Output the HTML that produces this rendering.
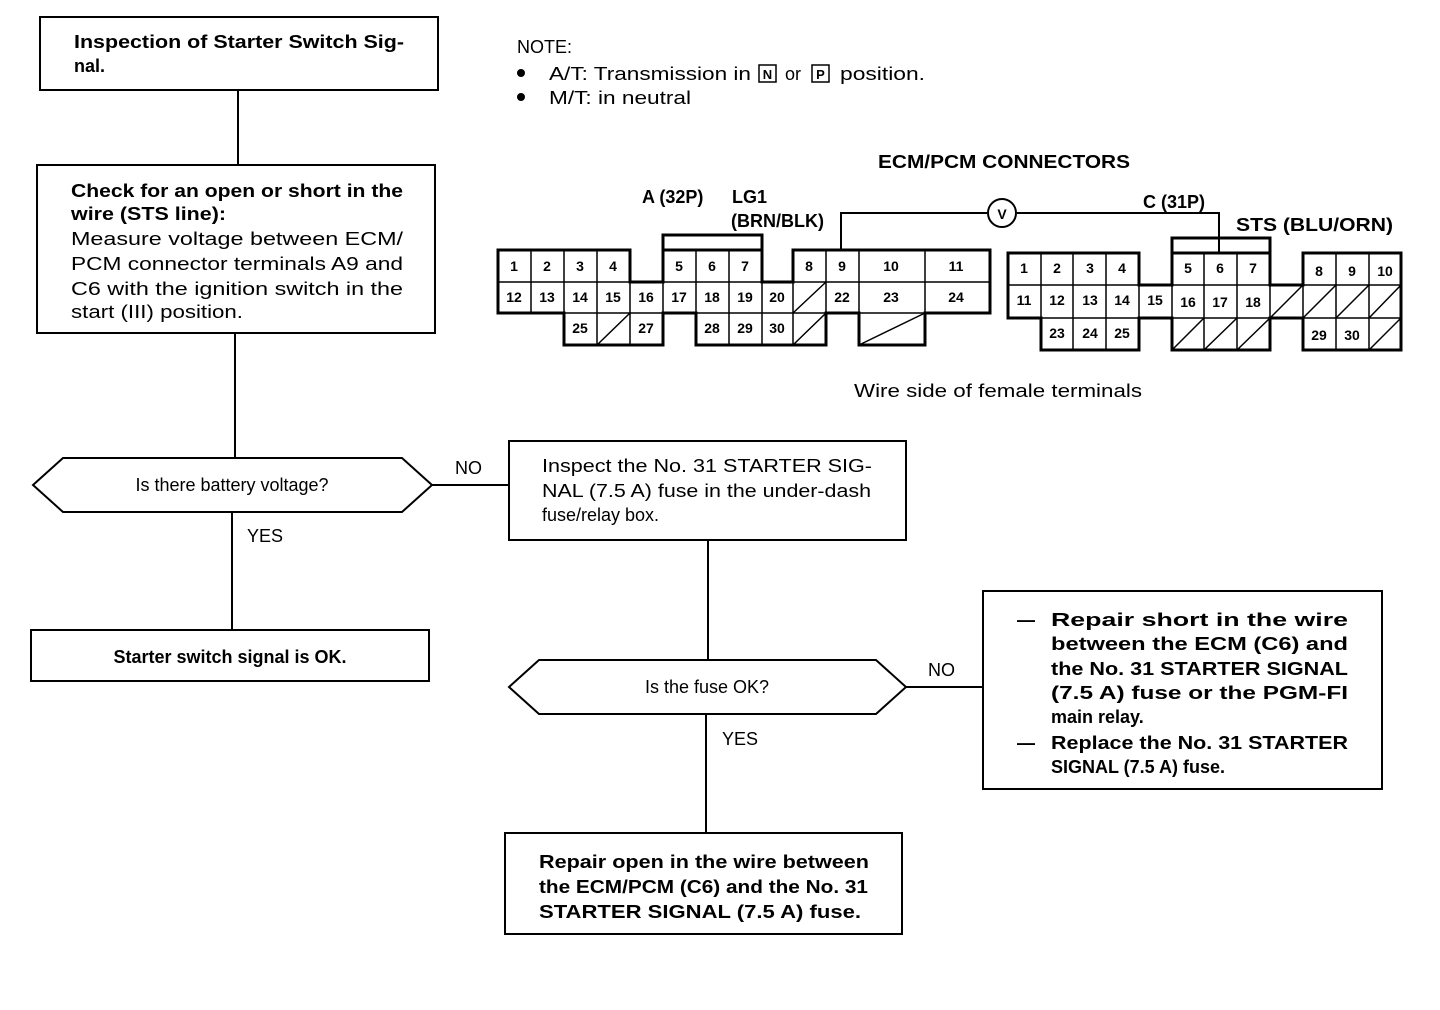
<!DOCTYPE html>
<html><head><meta charset="utf-8"><style>
html,body{margin:0;padding:0;background:#fff;}
svg{display:block;font-family:"Liberation Sans",sans-serif;}
.b{font-weight:bold;}
.t{font-size:18px;}
.n{font-size:14px;font-weight:bold;text-anchor:middle;}
</style></head><body>
<svg width="1440" height="1010" viewBox="0 0 1440 1010" xmlns="http://www.w3.org/2000/svg">
<g fill="none" stroke="#000" stroke-width="2">
<rect x="40" y="17" width="398" height="73"/>
<line x1="238" y1="90" x2="238" y2="165"/>
<rect x="37" y="165" width="398" height="168"/>
<line x1="235" y1="333" x2="235" y2="458"/>
<polygon points="33,485 63,458 402,458 432,485 402,512 63,512"/>
<line x1="232" y1="512" x2="232" y2="630"/>
<rect x="31" y="630" width="398" height="51"/>
<line x1="432" y1="485" x2="509" y2="485"/>
<rect x="509" y="441" width="397" height="99"/>
<line x1="708" y1="540" x2="708" y2="660"/>
<polygon points="509,687 539,660 876,660 906,687 876,714 539,714"/>
<line x1="906" y1="687" x2="983" y2="687"/>
<rect x="983" y="591" width="399" height="198"/>
<line x1="706" y1="714" x2="706" y2="833"/>
<rect x="505" y="833" width="397" height="101"/>
</g>
<g class="t">
<text x="74" y="48" class="b" textLength="330" lengthAdjust="spacingAndGlyphs">Inspection of Starter Switch Sig-</text>
<text x="74" y="72" class="b">nal.</text>
<text x="71" y="197" class="b" textLength="332" lengthAdjust="spacingAndGlyphs">Check for an open or short in the</text>
<text x="71" y="220" class="b" textLength="155" lengthAdjust="spacingAndGlyphs">wire (STS line):</text>
<text x="71" y="245" textLength="332" lengthAdjust="spacingAndGlyphs">Measure voltage between ECM/</text>
<text x="71" y="270" textLength="332" lengthAdjust="spacingAndGlyphs">PCM connector terminals A9 and</text>
<text x="71" y="295" textLength="332" lengthAdjust="spacingAndGlyphs">C6 with the ignition switch in the</text>
<text x="71" y="318" textLength="172" lengthAdjust="spacingAndGlyphs">start (III) position.</text>
<text x="232" y="491" text-anchor="middle">Is there battery voltage?</text>
<text x="247" y="542">YES</text>
<text x="230" y="663" text-anchor="middle" class="b">Starter switch signal is OK.</text>
<text x="455" y="474">NO</text>
<text x="542" y="472" textLength="330" lengthAdjust="spacingAndGlyphs">Inspect the No. 31 STARTER SIG-</text>
<text x="542" y="497" textLength="329" lengthAdjust="spacingAndGlyphs">NAL (7.5 A) fuse in the under-dash</text>
<text x="542" y="521">fuse/relay box.</text>
<text x="707" y="693" text-anchor="middle">Is the fuse OK?</text>
<text x="722" y="745">YES</text>
<text x="928" y="676">NO</text>
<text x="1017" y="626" class="b">—</text>
<text x="1051" y="626" class="b" textLength="297" lengthAdjust="spacingAndGlyphs">Repair short in the wire</text>
<text x="1051" y="650" class="b" textLength="297" lengthAdjust="spacingAndGlyphs">between the ECM (C6) and</text>
<text x="1051" y="675" class="b" textLength="297" lengthAdjust="spacingAndGlyphs">the No. 31 STARTER SIGNAL</text>
<text x="1051" y="699" class="b" textLength="297" lengthAdjust="spacingAndGlyphs">(7.5 A) fuse or the PGM-FI</text>
<text x="1051" y="723" class="b">main relay.</text>
<text x="1017" y="749" class="b">—</text>
<text x="1051" y="749" class="b" textLength="297" lengthAdjust="spacingAndGlyphs">Replace the No. 31 STARTER</text>
<text x="1051" y="773" class="b">SIGNAL (7.5 A) fuse.</text>
<text x="539" y="868" class="b" textLength="330" lengthAdjust="spacingAndGlyphs">Repair open in the wire between</text>
<text x="539" y="893" class="b" textLength="329" lengthAdjust="spacingAndGlyphs">the ECM/PCM (C6) and the No. 31</text>
<text x="539" y="918" class="b" textLength="322" lengthAdjust="spacingAndGlyphs">STARTER SIGNAL (7.5 A) fuse.</text>
<text x="517" y="53">NOTE:</text>
<circle cx="521" cy="73" r="4" fill="#000"/>
<text x="549" y="80" textLength="202" lengthAdjust="spacingAndGlyphs">A/T: Transmission in</text>
<rect x="759" y="65" width="17" height="17" fill="none" stroke="#000" stroke-width="1.5"/>
<text x="767.5" y="79" text-anchor="middle" font-size="13" class="b">N</text>
<text x="785" y="80">or</text>
<rect x="812" y="65" width="17" height="17" fill="none" stroke="#000" stroke-width="1.5"/>
<text x="820.5" y="79" text-anchor="middle" font-size="13" class="b">P</text>
<text x="840" y="80" textLength="85" lengthAdjust="spacingAndGlyphs">position.</text>
<circle cx="521" cy="97" r="4" fill="#000"/>
<text x="549" y="104" textLength="142" lengthAdjust="spacingAndGlyphs">M/T: in neutral</text>
<text x="878" y="168" class="b" textLength="252" lengthAdjust="spacingAndGlyphs">ECM/PCM CONNECTORS</text>
<text x="642" y="203" class="b">A (32P)</text>
<text x="732" y="203" class="b">LG1</text>
<text x="731" y="227" class="b">(BRN/BLK)</text>
<text x="1143" y="208" class="b">C (31P)</text>
<text x="1236" y="231" class="b" textLength="157" lengthAdjust="spacingAndGlyphs">STS (BLU/ORN)</text>
<text x="854" y="397" textLength="288" lengthAdjust="spacingAndGlyphs">Wire side of female terminals</text>
</g>
<g fill="none" stroke="#000" stroke-width="2">
<polyline points="841,250 841,213 987,213"/>
<polyline points="1017,213 1219,213 1219,238"/>
<circle cx="1002" cy="213" r="14"/>
</g>
<text x="1002" y="219" class="n" font-size="16">V</text>
<!-- Connector A -->
<g fill="none" stroke="#000" stroke-width="2">
<g stroke-width="1.5">
<path d="M498,250H630M498,282H990M564,313H990M531,250V313M564,250V345M597,250V345M630,282V345M663,250V345M696,250V345M729,250V345M762,250V345M793,250V345M826,250V345M859,250V313M925,250V313M663,250H762M793,250H990"/>
<line x1="597" y1="345" x2="630" y2="313"/>
<line x1="793" y1="313" x2="826" y2="282"/>
<line x1="793" y1="345" x2="826" y2="313"/>
<line x1="859" y1="345" x2="925" y2="313"/>
</g>
<path stroke-width="3" d="M498,250H630V282H663V250H762V282H793V250H990V313H925V345H859V313H826V345H696V313H663V345H564V313H498Z"/>
<path stroke-width="3" d="M663,250V235H762V250"/>
</g>
<g class="n">
<text x="514" y="271">1</text><text x="547" y="271">2</text><text x="580" y="271">3</text><text x="613" y="271">4</text>
<text x="679" y="271">5</text><text x="712" y="271">6</text><text x="745" y="271">7</text>
<text x="809" y="271">8</text><text x="842" y="271">9</text><text x="891" y="271">10</text><text x="956" y="271">11</text>
<text x="514" y="302">12</text><text x="547" y="302">13</text><text x="580" y="302">14</text><text x="613" y="302">15</text><text x="646" y="302">16</text><text x="679" y="302">17</text><text x="712" y="302">18</text><text x="745" y="302">19</text><text x="777" y="302">20</text><text x="842" y="302">22</text><text x="891" y="302">23</text><text x="956" y="302">24</text>
<text x="580" y="333">25</text><text x="646" y="333">27</text><text x="712" y="333">28</text><text x="745" y="333">29</text><text x="777" y="333">30</text>
</g>
<!-- Connector C -->
<g fill="none" stroke="#000" stroke-width="2">
<g stroke-width="1.5">
<path d="M1008,253H1139M1008,285H1401M1041,318H1139M1172,318H1401M1041,253V350M1073,253V350M1106,253V350M1139,253V318M1172,253V350M1204,253V350M1237,253V350M1270,253V350M1303,253V350M1336,253V350M1369,253V350M1172,253H1270M1303,253H1401"/>
<line x1="1270" y1="318" x2="1303" y2="285"/>
<line x1="1303" y1="318" x2="1336" y2="285"/>
<line x1="1336" y1="318" x2="1369" y2="285"/>
<line x1="1369" y1="318" x2="1401" y2="285"/>
<line x1="1172" y1="350" x2="1204" y2="318"/>
<line x1="1204" y1="350" x2="1237" y2="318"/>
<line x1="1237" y1="350" x2="1270" y2="318"/>
<line x1="1369" y1="350" x2="1401" y2="318"/>
</g>
<path stroke-width="3" d="M1008,253H1139V285H1172V253H1270V285H1303V253H1401V350H1303V318H1270V350H1172V318H1139V350H1041V318H1008Z"/>
<path stroke-width="3" d="M1172,253V238H1270V253"/>
<line x1="1219" y1="238" x2="1219" y2="253"/>
</g>
<g class="n">
<text x="1024" y="273">1</text><text x="1057" y="273">2</text><text x="1090" y="273">3</text><text x="1122" y="273">4</text>
<text x="1188" y="273">5</text><text x="1220" y="273">6</text><text x="1253" y="273">7</text>
<text x="1319" y="276">8</text><text x="1352" y="276">9</text><text x="1385" y="276">10</text>
<text x="1024" y="305">11</text><text x="1057" y="305">12</text><text x="1090" y="305">13</text><text x="1122" y="305">14</text><text x="1155" y="305">15</text><text x="1188" y="307">16</text><text x="1220" y="307">17</text><text x="1253" y="307">18</text>
<text x="1057" y="338">23</text><text x="1090" y="338">24</text><text x="1122" y="338">25</text>
<text x="1319" y="340">29</text><text x="1352" y="340">30</text>
</g>
</svg>
</body></html>
